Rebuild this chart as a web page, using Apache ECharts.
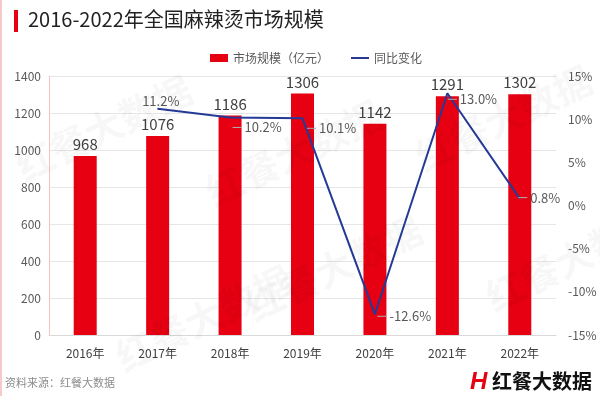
<!DOCTYPE html>
<html><head><meta charset="utf-8">
<script src="https://cdn.jsdelivr.net/npm/echarts@6/dist/echarts.min.js"></script>
<style>html,body{margin:0;padding:0;background:#fff}#c{width:600px;height:396px}</style>
</head><body><div id="c"></div>
<script>
var categories = ['2016年','2017年','2018年','2019年','2020年','2021年','2022年'];
var marketSize = [968, 1076, 1186, 1306, 1142, 1291, 1302];
var yoyChange = ['-', 11.2, 10.2, 10.1, -12.6, 13.0, 0.8];
var leftTicks = [0, 200, 400, 600, 800, 1000, 1200, 1400];
var rightTicks = [-15, -10, -5, 0, 5, 10, 15];

var chart = echarts.init(document.getElementById('c'), null, {renderer: 'canvas'});
var wm = function (x, y) {
  return {type: 'text', left: x, top: y, rotation: Math.PI / 7, silent: true, z: 100,
    style: {text: '红餐大数据', fill: 'rgba(0,0,0,0.03)', font: 'bold 38px "Noto Sans CJK SC"'}};
};
var labelPos = {1: [-20, -8], 2: [-2, 10], 3: [0, 10], 4: [-2, 2], 5: [-4, 6], 6: [-6, -1]};
var lineData = yoyChange.map(function (v, i) {
  if (v === '-') return v;
  return {value: v, label: {offset: labelPos[i]}};
});
chart.setOption({
  animation: false,
  textStyle: {fontFamily: '"Noto Sans CJK SC", "Noto Sans", sans-serif'},
  grid: {left: 49, right: 44, top: 76, bottom: 61},
  legend: {
    top: 47, left: 205, itemGap: 22, itemWidth: 18, itemHeight: 8,
    textStyle: {color: '#595959', fontSize: 12},
    data: [{name: '市场规模（亿元）', icon: 'rect'}, {name: '同比变化', icon: 'path://M0,3 L18,3 L18,5 L0,5 Z'}]
  },
  graphic: [
    {type: 'rect', left: 0, top: 0, shape: {width: 2, height: 396}, style: {fill: '#f7caca'}},
    {type: 'rect', left: 14, top: 10, shape: {width: 4, height: 22}, style: {fill: '#e60012'}},
    {type: 'text', left: 28, top: 9, style: {text: '2016-2022年全国麻辣烫市场规模', fill: '#222', font: '20px "Noto Sans CJK SC"'}},
    {type: 'text', left: 5, top: 377, style: {text: '资料来源：红餐大数据', fill: '#8c8c8c', font: '11px "Noto Sans CJK SC"'}},
    {type: 'text', left: 470, top: 370, style: {text: 'H', fill: '#e60012', font: 'italic bold 24px "Liberation Sans"'}},
    {type: 'text', left: 492, top: 371, style: {text: '红餐大数据', fill: '#111', font: 'bold 20px "Noto Sans CJK SC"'}},
    wm(10, 70), wm(200, 95), wm(410, 60), wm(110, 260), wm(240, 210), wm(480, 200)
  ],
  xAxis: {
    type: 'category', data: categories,
    axisLine: {lineStyle: {color: '#d9d9d9'}},
    axisTick: {show: false},
    axisLabel: {color: '#404040', fontSize: 12, margin: 12}
  },
  yAxis: [{
    type: 'value', min: leftTicks[0], max: leftTicks[leftTicks.length - 1], interval: 200,
    axisLine: {show: true, lineStyle: {color: '#f4c4c4'}},
    axisLabel: {color: '#595959', fontSize: 12, formatter: function (v) { return String(v); }},
    splitLine: {lineStyle: {color: '#e6e6e6'}}
  }, {
    type: 'value', min: rightTicks[0], max: rightTicks[rightTicks.length - 1], interval: 5,
    axisLine: {show: false},
    axisLabel: {color: '#595959', fontSize: 12, formatter: '{value}%', margin: 12},
    splitLine: {show: false}
  }],
  series: [{
    name: '市场规模（亿元）', type: 'bar', data: marketSize, barWidth: 23,
    itemStyle: {color: '#e60012'},
    label: {show: true, position: 'top', color: '#404040', fontSize: 15, distance: 4}
  }, {
    name: '同比变化', type: 'line', yAxisIndex: 1, data: lineData,
    symbol: 'circle', symbolSize: 1, showSymbol: true,
    lineStyle: {color: '#243a96', width: 2}, itemStyle: {color: '#243a96'},
    label: {show: true, position: 'right', distance: 4, color: '#595959', fontSize: 13,
      rich: {l: {width: 9, height: 1, backgroundColor: '#b0b0b0'}, g: {width: 3}},
      formatter: function (p) {
        var v = Array.isArray(p.value) ? p.value[1] : p.value;
        if (typeof v !== 'number') return '';
        var t = v.toFixed(1) + '%';
        return p.dataIndex === 1 ? t : '{l|}{g|}' + t;
      }}
  }]
});
</script></body></html>
